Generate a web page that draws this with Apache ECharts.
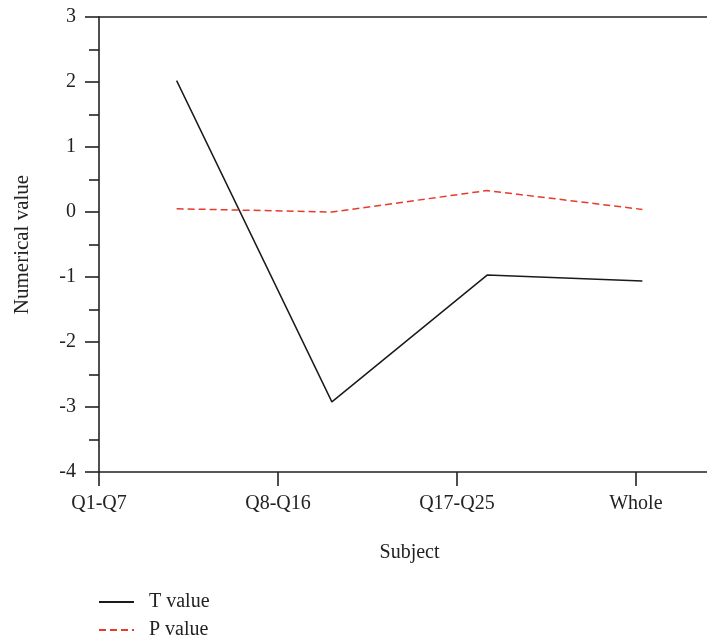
<!DOCTYPE html>
<html>
<head>
<meta charset="utf-8">
<script src="https://cdn.jsdelivr.net/npm/echarts@6/dist/echarts.min.js"></script>
<style>
  html, body { margin: 0; padding: 0; background: #fff; }
  #chart { width: 707px; height: 642px; }
</style>
</head>
<body>
<div id="chart"></div>
<script>
// Subject groups and tick labels
const categories = ['Q1-Q7', 'Q8-Q16', 'Q17-Q25', 'Whole'];
const tickLabels = ['Q1-Q7', 'Q8-Q16', 'Q17-Q25', 'Whole'];

// Test statistics per subject group
const tValues = [2.02, -2.92, -0.97, -1.06];
const pValues = [0.05, 0.0, 0.33, 0.04];

const FONT = '"Liberation Serif", "DejaVu Serif", serif';
const INK = '#222';

const chart = echarts.init(document.getElementById('chart'), null, { renderer: 'canvas' });

chart.setOption({
  backgroundColor: '#fff',
  animation: false,
  grid: { left: 99, top: 17, bottom: 170, right: -13, containLabel: false, outerBoundsMode: 'none' },
  legend: {
    orient: 'vertical',
    left: 98,
    top: 592,
    padding: 0,
    itemWidth: 35,
    itemHeight: 20,
    itemGap: 8,
    itemStyle: { opacity: 0 },
    textStyle: { fontFamily: FONT, fontSize: 20, color: INK, padding: [0, 0, 0, 10] },
    data: ['T value', 'P value']
  },
  xAxis: [
    {
      // labelled subject axis
      type: 'value',
      position: 'bottom',
      min: 0,
      max: 3.47,
      interval: 1,
      name: 'Subject',
      nameLocation: 'middle',
      nameGap: 71,
      nameTextStyle: { fontFamily: FONT, fontSize: 20, color: INK },
      splitLine: { show: false },
      axisLine: { show: true, onZero: false, lineStyle: { color: INK, width: 1.6 } },
      axisTick: { show: true, length: 14, inside: false, lineStyle: { color: INK, width: 1.6 } },
      axisLabel: {
        margin: 22,
        fontFamily: FONT,
        fontSize: 20,
        color: INK,
        showMaxLabel: false,
        formatter: v => (Number.isInteger(v) && tickLabels[v] !== undefined) ? tickLabels[v] : ''
      }
    },
    {
      // category axis carrying the series, drawn as the top frame line
      type: 'category',
      position: 'top',
      boundaryGap: true,
      data: categories,
      axisLine: { show: true, onZero: false, lineStyle: { color: INK, width: 1.6 } },
      axisTick: { show: false },
      axisLabel: { show: false },
      splitLine: { show: false }
    }
  ],
  yAxis: {
    type: 'value',
    min: -4,
    max: 3,
    interval: 1,
    name: 'Numerical value',
    nameLocation: 'middle',
    nameGap: 66,
    nameRotate: 90,
    nameTextStyle: { fontFamily: FONT, fontSize: 21, color: INK },
    splitLine: { show: false },
    axisLine: { show: true, onZero: false, lineStyle: { color: INK, width: 1.6 } },
    axisTick: { show: true, length: 14, inside: false, lineStyle: { color: INK, width: 1.6 } },
    minorTick: { show: true, splitNumber: 2, length: 10, lineStyle: { color: INK, width: 1.6 } },
    axisLabel: { margin: 23, fontFamily: FONT, fontSize: 20, color: INK }
  },
  series: [
    {
      name: 'T value',
      type: 'line',
      xAxisIndex: 1,
      data: tValues,
      symbol: 'none',
      showSymbol: false,
      itemStyle: { color: '#1a1a1a' },
      lineStyle: { color: '#1a1a1a', width: 1.5, type: 'solid' }
    },
    {
      name: 'P value',
      type: 'line',
      xAxisIndex: 1,
      data: pValues,
      symbol: 'none',
      showSymbol: false,
      itemStyle: { color: '#e8392a' },
      lineStyle: { color: '#e8392a', width: 1.5, type: [7, 4] }
    }
  ]
});
</script>
</body>
</html>
